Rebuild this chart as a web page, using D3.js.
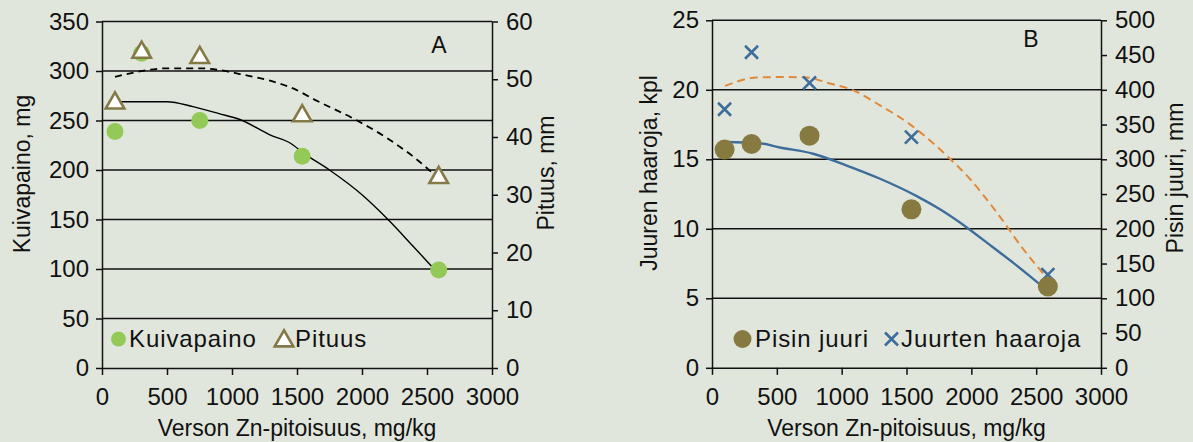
<!DOCTYPE html>
<html><head><meta charset="utf-8">
<script src="https://cdn.jsdelivr.net/npm/d3@7"></script>
<style>
html,body{margin:0;padding:0;background:#e1e6dc;}
svg{display:block;font-family:"Liberation Sans",Arial,sans-serif;}
</style></head>
<body><svg id="c" width="1193" height="442"></svg>
<script>
// ---- Data ----
const xTicks = [0, 500, 1000, 1500, 2000, 2500, 3000];
// Panel A
const xA = [100, 305, 752, 1540, 2590];
const kuivapaino = [239, 318, 250, 214, 99];          // mg, left axis
const pituus = [46.2, 55.0, 54.1, 44.0, 33.3];         // mm, right axis
const fitKuivaX = [100, 500, 700, 900, 1060, 1300, 1450, 1550, 1750, 2000, 2200, 2400, 2590];
const fitKuivaY = [269, 269, 264, 257, 251, 235, 227, 217, 200, 175, 150, 122, 95];
const fitPituusX = [100, 300, 500, 750, 900, 1060, 1300, 1450, 1650, 1950, 2200, 2400, 2590];
const fitPituusY = [50.4, 51.4, 51.9, 51.9, 51.6, 50.9, 49.7, 48.6, 46.3, 43.0, 39.7, 36.5, 32.8];
const leftTicksA = [0, 50, 100, 150, 200, 250, 300, 350];
const rightTicksA = [0, 10, 20, 30, 40, 50, 60];
// Panel B
const xB = [97, 305, 752, 1538, 2590];
const pisinJuuri = [314, 322, 334, 228, 117];          // mm, right axis
const juurtenHaaroja = [18.6, 22.7, 20.5, 16.6, 6.7];  // kpl, left axis
const fitPisinX = [95, 370, 524, 780, 1039, 1296, 1579, 1758, 1965, 2169, 2324, 2594];
const fitPisinY = [325, 323, 317, 308, 291, 272, 247, 228, 202, 173, 151, 110];
const fitHaarX = [100, 345, 550, 730, 910, 1090, 1296, 1502, 1810, 1990, 2196, 2401, 2580];
const fitHaarY = [20.28, 20.88, 20.92, 20.88, 20.45, 19.96, 18.88, 17.68, 15.27, 13.58, 11.18, 8.53, 6.5];
const leftTicksB = [0, 5, 10, 15, 20, 25];
const rightTicksB = [0, 50, 100, 150, 200, 250, 300, 350, 400, 450, 500];

const svg = d3.select("#c");
const FS = 23, TFS = 24, LFS = 24;
const ink = "#111";
const fmt = d3.format("d");

function panel(o) {
  const g = svg.append("g");
  const x = d3.scaleLinear().domain([0, 3000]).range([o.left, o.right]);
  const yL = d3.scaleLinear().domain([0, o.lMax]).range([o.bottom, o.top]);
  const yR = d3.scaleLinear().domain([0, o.rMax]).range([o.bottom, o.top]);
  // gridlines
  g.selectAll("line.grid").data(o.lTicks.filter(d => d > 0)).join("line")
    .attr("x1", o.left).attr("x2", o.right)
    .attr("y1", d => yL(d)).attr("y2", d => yL(d))
    .attr("stroke", ink).attr("stroke-width", 1.5);
  const la = g.append("g").attr("transform", `translate(${o.left},0)`)
    .call(d3.axisLeft(yL).tickValues(o.lTicks).tickFormat(fmt).tickSize(6).tickSizeOuter(0).tickPadding(7));
  const ra = g.append("g").attr("transform", `translate(${o.right},0)`)
    .call(d3.axisRight(yR).tickValues(o.rTicks).tickFormat(fmt).tickSize(6).tickSizeOuter(0).tickPadding(8));
  const ba = g.append("g").attr("transform", `translate(0,${o.bottom})`)
    .call(d3.axisBottom(x).tickValues(xTicks).tickFormat(fmt).tickSize(7).tickSizeOuter(0).tickPadding(13));
  [la, ra, ba].forEach(a => {
    a.selectAll("path").attr("stroke", ink).attr("stroke-width", 1.5);
    a.selectAll("line").attr("stroke", ink).attr("stroke-width", 1.5);
    a.selectAll("text").attr("font-size", TFS).attr("fill", ink)
      .attr("font-family", "Liberation Sans, Arial, sans-serif");
  });
  g.append("text").attr("x", (o.left + o.right) / 2).attr("y", 436)
    .attr("text-anchor", "middle").attr("font-size", FS).attr("fill", ink).text(o.xTitle);
  g.append("text").attr("transform", `translate(${o.lTitleX},${o.lTitleY}) rotate(-90)`)
    .attr("text-anchor", "middle").attr("font-size", FS).attr("fill", ink).text(o.lTitle);
  g.append("text").attr("transform", `translate(${o.rTitleX},${o.rTitleY}) rotate(-90)`)
    .attr("text-anchor", "middle").attr("font-size", FS).attr("fill", ink).text(o.rTitle);
  g.append("text").attr("x", o.labX).attr("y", o.labY).attr("text-anchor", "middle")
    .attr("font-size", FS).attr("fill", ink).text(o.label);
  return {g, x, yL, yR};
}

function legendText(g, x, y, t) {
  g.append("text").attr("x", x).attr("y", y).attr("font-size", LFS)
    .attr("letter-spacing", "0.9px").attr("fill", ink).text(t);
}

// ---- Panel A ----
const A = panel({left: 102, right: 492, top: 21.5, bottom: 368, lMax: 350, rMax: 60,
  lTicks: leftTicksA, rTicks: rightTicksA,
  xTitle: "Verson Zn-pitoisuus, mg/kg", lTitle: "Kuivapaino, mg", rTitle: "Pituus, mm",
  lTitleX: 30, lTitleY: 174, rTitleX: 554, rTitleY: 173, label: "A", labX: 439, labY: 53});

const lineA1 = d3.line().x(d => A.x(d[0])).y(d => A.yL(d[1])).curve(d3.curveMonotoneX);
A.g.append("path").datum(d3.zip(fitKuivaX, fitKuivaY)).attr("d", lineA1)
  .attr("fill", "none").attr("stroke", "#000").attr("stroke-width", 1.4);
const lineA2 = d3.line().x(d => A.x(d[0])).y(d => A.yR(d[1])).curve(d3.curveMonotoneX);
A.g.append("path").datum(d3.zip(fitPituusX, fitPituusY)).attr("d", lineA2)
  .attr("fill", "none").attr("stroke", "#000").attr("stroke-width", 1.8).attr("stroke-dasharray", "7,5");

const green = "#92c957", olive = "#867a40", triStroke = "#857947";
A.g.selectAll("circle.k").data(d3.zip(xA, kuivapaino)).join("circle")
  .attr("cx", d => A.x(d[0])).attr("cy", d => A.yL(d[1])).attr("r", 8.5).attr("fill", green);
const tri = d3.symbol().type(d3.symbolTriangle).size(150);
A.g.selectAll("path.t").data(d3.zip(xA, pituus)).join("path")
  .attr("transform", d => `translate(${A.x(d[0])},${A.yR(d[1]) + 2})`)
  .attr("d", tri).attr("fill", "#fff").attr("stroke", triStroke).attr("stroke-width", 2.6);
A.g.append("circle").attr("cx", 118.5).attr("cy", 339).attr("r", 7.5).attr("fill", green);
legendText(A.g, 129, 347, "Kuivapaino");
A.g.append("path").attr("transform", "translate(284,341)").attr("d", tri)
  .attr("fill", "#fff").attr("stroke", triStroke).attr("stroke-width", 2.6);
legendText(A.g, 295, 347, "Pituus");

// ---- Panel B ----
const B = panel({left: 712, right: 1101, top: 20.3, bottom: 367.8, lMax: 25, rMax: 500,
  lTicks: leftTicksB, rTicks: rightTicksB,
  xTitle: "Verson Zn-pitoisuus, mg/kg", lTitle: "Juuren haaroja, kpl", rTitle: "Pisin juuri, mm",
  lTitleX: 657, lTitleY: 173, rTitleX: 1183, rTitleY: 178, label: "B", labX: 1031, labY: 47});

const blue = "#3d6d9a", orange = "#e0893b";
const lineB2 = d3.line().x(d => B.x(d[0])).y(d => B.yL(d[1])).curve(d3.curveMonotoneX);
B.g.append("path").datum(d3.zip(fitHaarX, fitHaarY)).attr("d", lineB2)
  .attr("fill", "none").attr("stroke", orange).attr("stroke-width", 2).attr("stroke-dasharray", "8,5");
const lineB1 = d3.line().x(d => B.x(d[0])).y(d => B.yR(d[1])).curve(d3.curveMonotoneX);
B.g.append("path").datum(d3.zip(fitPisinX, fitPisinY)).attr("d", lineB1)
  .attr("fill", "none").attr("stroke", blue).attr("stroke-width", 2.4);

const xs = 6.5;
function cross(sel, cx, cy) {
  sel.append("path").attr("d", `M${cx - xs},${cy - xs}L${cx + xs},${cy + xs}M${cx - xs},${cy + xs}L${cx + xs},${cy - xs}`)
    .attr("stroke", blue).attr("stroke-width", 2.6).attr("fill", "none");
}
d3.zip(xB, juurtenHaaroja).forEach(d => cross(B.g, B.x(d[0]), B.yL(d[1])));
B.g.selectAll("circle.p").data(d3.zip(xB, pisinJuuri)).join("circle")
  .attr("cx", d => B.x(d[0])).attr("cy", d => B.yR(d[1])).attr("r", 10).attr("fill", olive);
B.g.append("circle").attr("cx", 742.5).attr("cy", 339).attr("r", 9).attr("fill", olive);
legendText(B.g, 755, 347, "Pisin juuri");
cross(B.g, 891.5, 339);
legendText(B.g, 901, 347, "Juurten haaroja");
</script></body></html>
